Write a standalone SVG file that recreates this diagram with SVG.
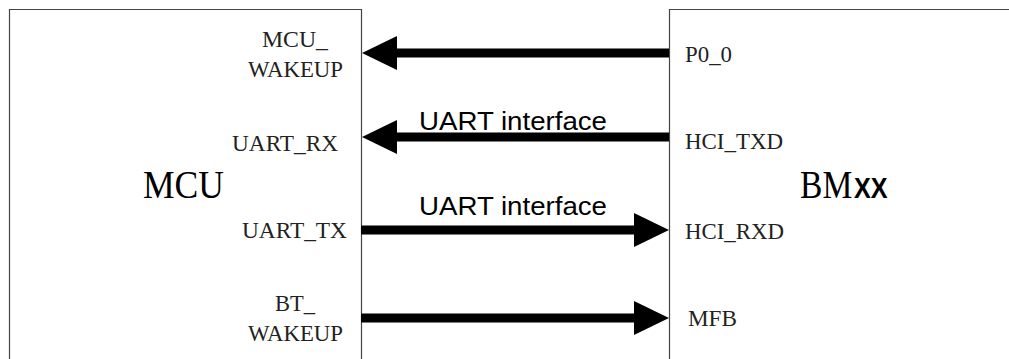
<svg xmlns="http://www.w3.org/2000/svg" width="1009" height="359" viewBox="0 0 1009 359">
<style>
.box{fill:none;stroke:#444;stroke-width:1.2}
.pin{font-family:"Liberation Serif",serif;font-size:24px;fill:#222}
.big{font-family:"Liberation Serif",serif;font-size:40px;fill:#000}
.bold{font-family:"Liberation Sans",Arial,sans-serif;font-weight:bold;font-size:30px;fill:#000}
.lbl{font-family:"Liberation Sans",Arial,sans-serif;font-size:25px;fill:#000}
.shaft{stroke:#000;stroke-width:9}
.head{fill:#000}
</style>
<rect width="1009" height="359" fill="#fff"/>
<g id="mcu">
<path class="box" d="M9.5,362 V9.5 H361.5 V362"/>
<text class="big" x="143" y="198" textLength="81" lengthAdjust="spacingAndGlyphs">MCU</text>
<text class="pin" x="262" y="47" textLength="66" lengthAdjust="spacingAndGlyphs">MCU_</text>
<text class="pin" x="248" y="77" textLength="95" lengthAdjust="spacingAndGlyphs">WAKEUP</text>
<text class="pin" x="232" y="151" textLength="106" lengthAdjust="spacingAndGlyphs">UART_RX</text>
<text class="pin" x="242" y="238" textLength="105" lengthAdjust="spacingAndGlyphs">UART_TX</text>
<text class="pin" x="275" y="311" textLength="40" lengthAdjust="spacingAndGlyphs">BT_</text>
<text class="pin" x="248" y="341" textLength="95" lengthAdjust="spacingAndGlyphs">WAKEUP</text>
</g>
<g id="bmxx">
<path class="box" d="M669.5,362 V9.5 H1010"/>
<text class="big" transform="translate(800,198) scale(0.84,1)" x="0" y="0">BM<tspan class="bold" dx="2">XX</tspan></text>
<text class="pin" x="685" y="62" textLength="47" lengthAdjust="spacingAndGlyphs">P0_0</text>
<text class="pin" x="685" y="149" textLength="98" lengthAdjust="spacingAndGlyphs">HCI_TXD</text>
<text class="pin" x="685" y="239" textLength="99" lengthAdjust="spacingAndGlyphs">HCI_RXD</text>
<text class="pin" x="688" y="326" textLength="49" lengthAdjust="spacingAndGlyphs">MFB</text>
</g>
<g id="connectors">
<line class="shaft" x1="669" y1="53" x2="395" y2="53"/>
<polygon class="head" points="362,53 397,36 397,70"/>
<line class="shaft" x1="669" y1="137" x2="395" y2="137"/>
<polygon class="head" points="362,137 397,120 397,154"/>
<line class="shaft" x1="361" y1="230" x2="636" y2="230"/>
<polygon class="head" points="669,230 634,213 634,247"/>
<line class="shaft" x1="361" y1="318" x2="636" y2="318"/>
<polygon class="head" points="669,318 634,301 634,335"/>
<text class="lbl" x="419" y="130" textLength="188" lengthAdjust="spacingAndGlyphs">UART interface</text>
<text class="lbl" x="419" y="215" textLength="188" lengthAdjust="spacingAndGlyphs">UART interface</text>
</g>
</svg>
